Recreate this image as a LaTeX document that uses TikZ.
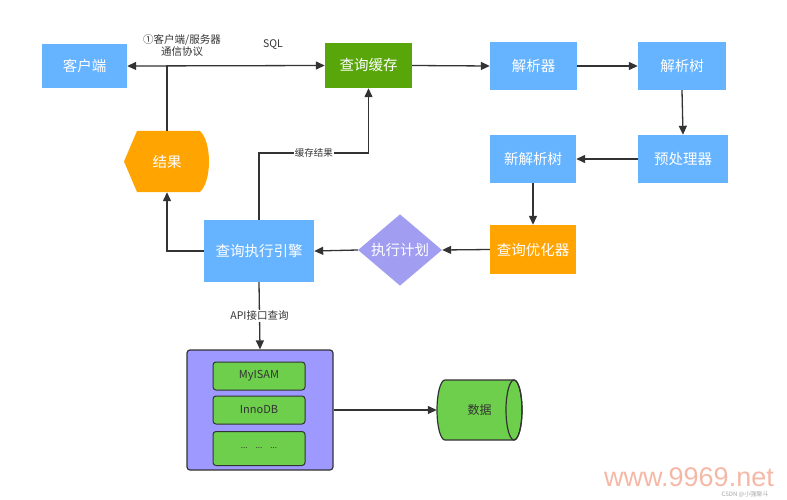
\documentclass[tikz,border=0pt]{standalone}
\usepackage{fontspec}
\setmainfont{Noto Sans CJK SC}
\newfontfamily\wmfont{Liberation Sans}
\usetikzlibrary{shapes.geometric,arrows.meta,positioning}
\definecolor{boxblue}{HTML}{66B3FF}
\definecolor{cachegreen}{HTML}{58A60A}
\definecolor{boxorange}{HTML}{FFA400}
\definecolor{planpurple}{HTML}{A19EF2}
\definecolor{storepurple}{HTML}{9D99FF}
\definecolor{enggreen}{HTML}{6DCF4B}
\definecolor{linegray}{HTML}{333333}
\definecolor{wmcolor}{HTML}{F5B8A6}
\tikzset{
  bluebox/.style={fill=boxblue, text=white, font=\fontsize{14.5}{16}\selectfont, inner sep=0pt},
  arr/.style={draw=linegray, line width=1.3pt, -{Triangle[length=9pt,width=8pt]}},
  plain/.style={draw=linegray, line width=1.3pt},
  lbl/.style={font=\fontsize{10.5}{12}\selectfont, text=linegray, inner sep=1pt},
  engbox/.style={fill=enggreen, draw=linegray, line width=1pt, rounded corners=3pt, minimum width=92pt, minimum height=28pt, font=\fontsize{11}{13}\selectfont, text=linegray, inner sep=0pt}
}
\begin{document}
\begin{tikzpicture}[x=1pt,y=-1pt]
\useasboundingbox (0,0) rectangle (787,500);
% nodes
\node[bluebox, minimum width=85pt, minimum height=44pt] (client) at (84.5,66) {客户端};
\node[bluebox, fill=cachegreen, minimum width=87pt, minimum height=45pt] (cache) at (368.5,65.5) {查询缓存};
\node[bluebox, minimum width=87pt, minimum height=48pt] (parser) at (533.5,66) {解析器};
\node[bluebox, minimum width=88pt, minimum height=48pt] (ptree) at (682,66) {解析树};
\node[bluebox, minimum width=90pt, minimum height=48pt] (pre) at (683,159) {预处理器};
\node[bluebox, minimum width=86pt, minimum height=48pt] (ntree) at (533,159) {新解析树};
\node[bluebox, fill=boxorange, minimum width=86pt, minimum height=49pt] (opt) at (533,249.5) {查询优化器};
\node[diamond, fill=planpurple, text=white, font=\fontsize{14.5}{16}\selectfont, minimum width=84pt, minimum height=64pt, inner sep=0pt] (plan) at (400,250) {执行计划};
\node[bluebox, minimum width=110pt, minimum height=62pt] (exec) at (259,251) {查询执行引擎};
% result shape
\fill[boxorange] (137,131) -- (200,131) .. controls (212,142) and (212,181) .. (200,192) -- (137,192) -- (124,161.5) -- cycle;
\node[text=white, font=\fontsize{14.5}{16}\selectfont, minimum width=86pt, minimum height=61pt, inner sep=0pt] (res) at (167,161.5) {结果};
% storage engine box
\node[fill=storepurple, draw=linegray, line width=1.2pt, rounded corners=3pt, minimum width=146pt, minimum height=120pt] (store) at (260,410) {};
\node[engbox] (myisam) at (259,376) {MyISAM};
\node[engbox] (innodb) at (259,410) {InnoDB};
\node[engbox, minimum height=34pt] (more) at (259,448.5) {\fontsize{8}{10}\selectfont ...\quad ...\quad ...};
% cylinder
\filldraw[fill=enggreen, draw=linegray, line width=1.2pt] (514,380) -- (445,380) arc[start angle=90, end angle=270, x radius=8pt, y radius=30pt] -- (514,440) arc[start angle=270, end angle=450, x radius=8pt, y radius=30pt] -- cycle;
\draw[linegray, line width=1.2pt] (514,410) ellipse[x radius=8pt, y radius=30pt];
\node[minimum width=85pt, minimum height=60pt, font=\fontsize{12}{14}\selectfont, text=linegray, inner sep=0pt] (data) at (479.5,410) {数据};
% connectors
\draw[arr, {Triangle[length=9pt,width=8pt]}-{Triangle[length=9pt,width=8pt]}] (client.east) -- (cache.west);
\coordinate (junc) at (res.north |- client.east);
\draw[plain] (res.north) -- (junc);
\node[lbl, align=center] (proto) at (182,45.5) {①客户端/服务器\\通信协议};
\node[lbl] (sql) at (273,45) {SQL};
\draw[arr] (cache.east) -- (parser.west);
\draw[arr] (parser.east) -- (ptree.west);
\draw[arr] (ptree.south) -- (pre.north);
\draw[arr] (pre.west) -- (ntree.east);
\draw[arr] (ntree.south) -- (opt.north);
\draw[arr] (opt.west) -- (plan.east);
\draw[arr] (plan.west) -- (exec.east);
\draw[arr] (exec.west) -| (res.south);
\coordinate (cb) at (cache.south |- 0,153);
\draw[arr] (exec.north) |- (cb) node[pos=0.75, lbl, fill=white, font=\fontsize{9.5}{11}\selectfont] {缓存结果} -- (cache.south);
\draw[arr] (exec.south) -- (store.north) node[midway, lbl, fill=white] {API接口查询};
\draw[arr] (store.east) -- (data.west);
% watermarks
\node[text=wmcolor, font=\wmfont\fontsize{27}{30}\selectfont, inner sep=0pt] (wm) at (689,477) {www.9969.net};
\node[text=gray!70, font=\fontsize{6}{7}\selectfont, inner sep=0pt] (csdn) at (745,494) {CSDN @小强聊斗};
\end{tikzpicture}
\end{document}
